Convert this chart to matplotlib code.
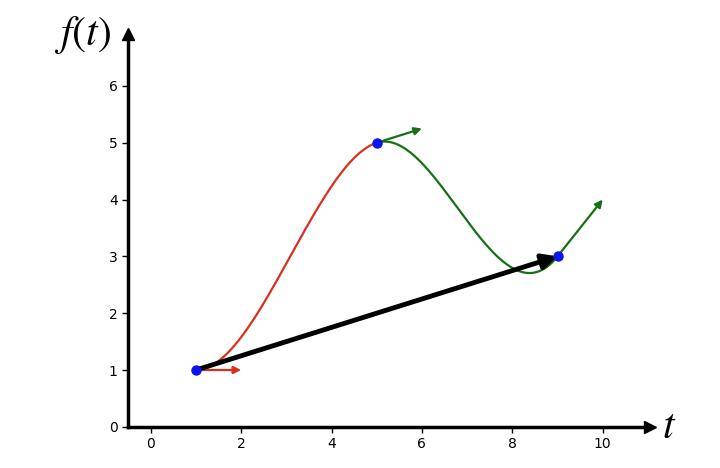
import numpy as np
import matplotlib.pyplot as plt

# control points and tangents of the Hermite spline
pts_x = [1, 5, 9]
pts_y = [1, 5, 3]
tan_x = [1, 1, 1]
tan_y = [0, 0.25, 1]
seg_colors = ['#d9301e', '#167016']
tan_colors = ['#d9301e', '#167016', '#167016']


def hermite(x0, y0, m0, x1, y1, m1, n=200):
    s = np.linspace(0, 1, n)
    h = x1 - x0
    h00 = 2 * s**3 - 3 * s**2 + 1
    h10 = s**3 - 2 * s**2 + s
    h01 = -2 * s**3 + 3 * s**2
    h11 = s**3 - s**2
    return x0 + h * s, h00 * y0 + h10 * h * m0 + h01 * y1 + h11 * h * m1


fig = plt.figure(figsize=(7.2, 4.68), dpi=100)
ax = fig.add_axes([0.178, 0.088, 0.725, 0.84])

slopes = [ty / tx for tx, ty in zip(tan_x, tan_y)]
for i in range(len(pts_x) - 1):
    xs, ys = hermite(pts_x[i], pts_y[i], slopes[i], pts_x[i + 1], pts_y[i + 1], slopes[i + 1])
    ax.plot(xs, ys, color=seg_colors[i], lw=1.6, zorder=2)

# tangent arrows
for x, y, dx, dy, c in zip(pts_x, pts_y, tan_x, tan_y, tan_colors):
    ax.annotate('', xy=(x + dx, y + dy), xytext=(x, y),
                arrowprops=dict(arrowstyle='-|>', color=c, lw=1.6, mutation_scale=11,
                                shrinkA=0, shrinkB=0), zorder=3)

# chord from first to last point
ax.annotate('', xy=(pts_x[-1], pts_y[-1]), xytext=(pts_x[0], pts_y[0]),
            arrowprops=dict(arrowstyle='-|>', color='black', lw=3.5, mutation_scale=22,
                            shrinkA=0, shrinkB=0), zorder=4)

ax.plot(pts_x, pts_y, 'o', color='#0a14ee', ms=6.5, zorder=5)

ax.set_xlim(-0.5, 11.05)
ax.set_ylim(0, 6.92)
ax.set_xticks([0, 2, 4, 6, 8, 10])
ax.set_yticks([0, 1, 2, 3, 4, 5, 6])
ax.tick_params(labelsize=10, length=4, width=1)
for side in ['top', 'right']:
    ax.spines[side].set_visible(False)
for side in ['left', 'bottom']:
    ax.spines[side].set_linewidth(2.5)

# arrow heads at the axis ends
ax.plot(1, 0, '>k', ms=9, transform=ax.transAxes, clip_on=False)
ax.plot(0, 1, '^k', ms=9, transform=ax.transAxes, clip_on=False)

plt.rcParams['mathtext.fontset'] = 'stix'
fig.text(0.075, 0.925, '$f(t)$', fontsize=30, ha='left', va='center')
fig.text(0.92, 0.09, '$t$', fontsize=30, ha='left', va='center')

fig.savefig('out.png', dpi=100)
